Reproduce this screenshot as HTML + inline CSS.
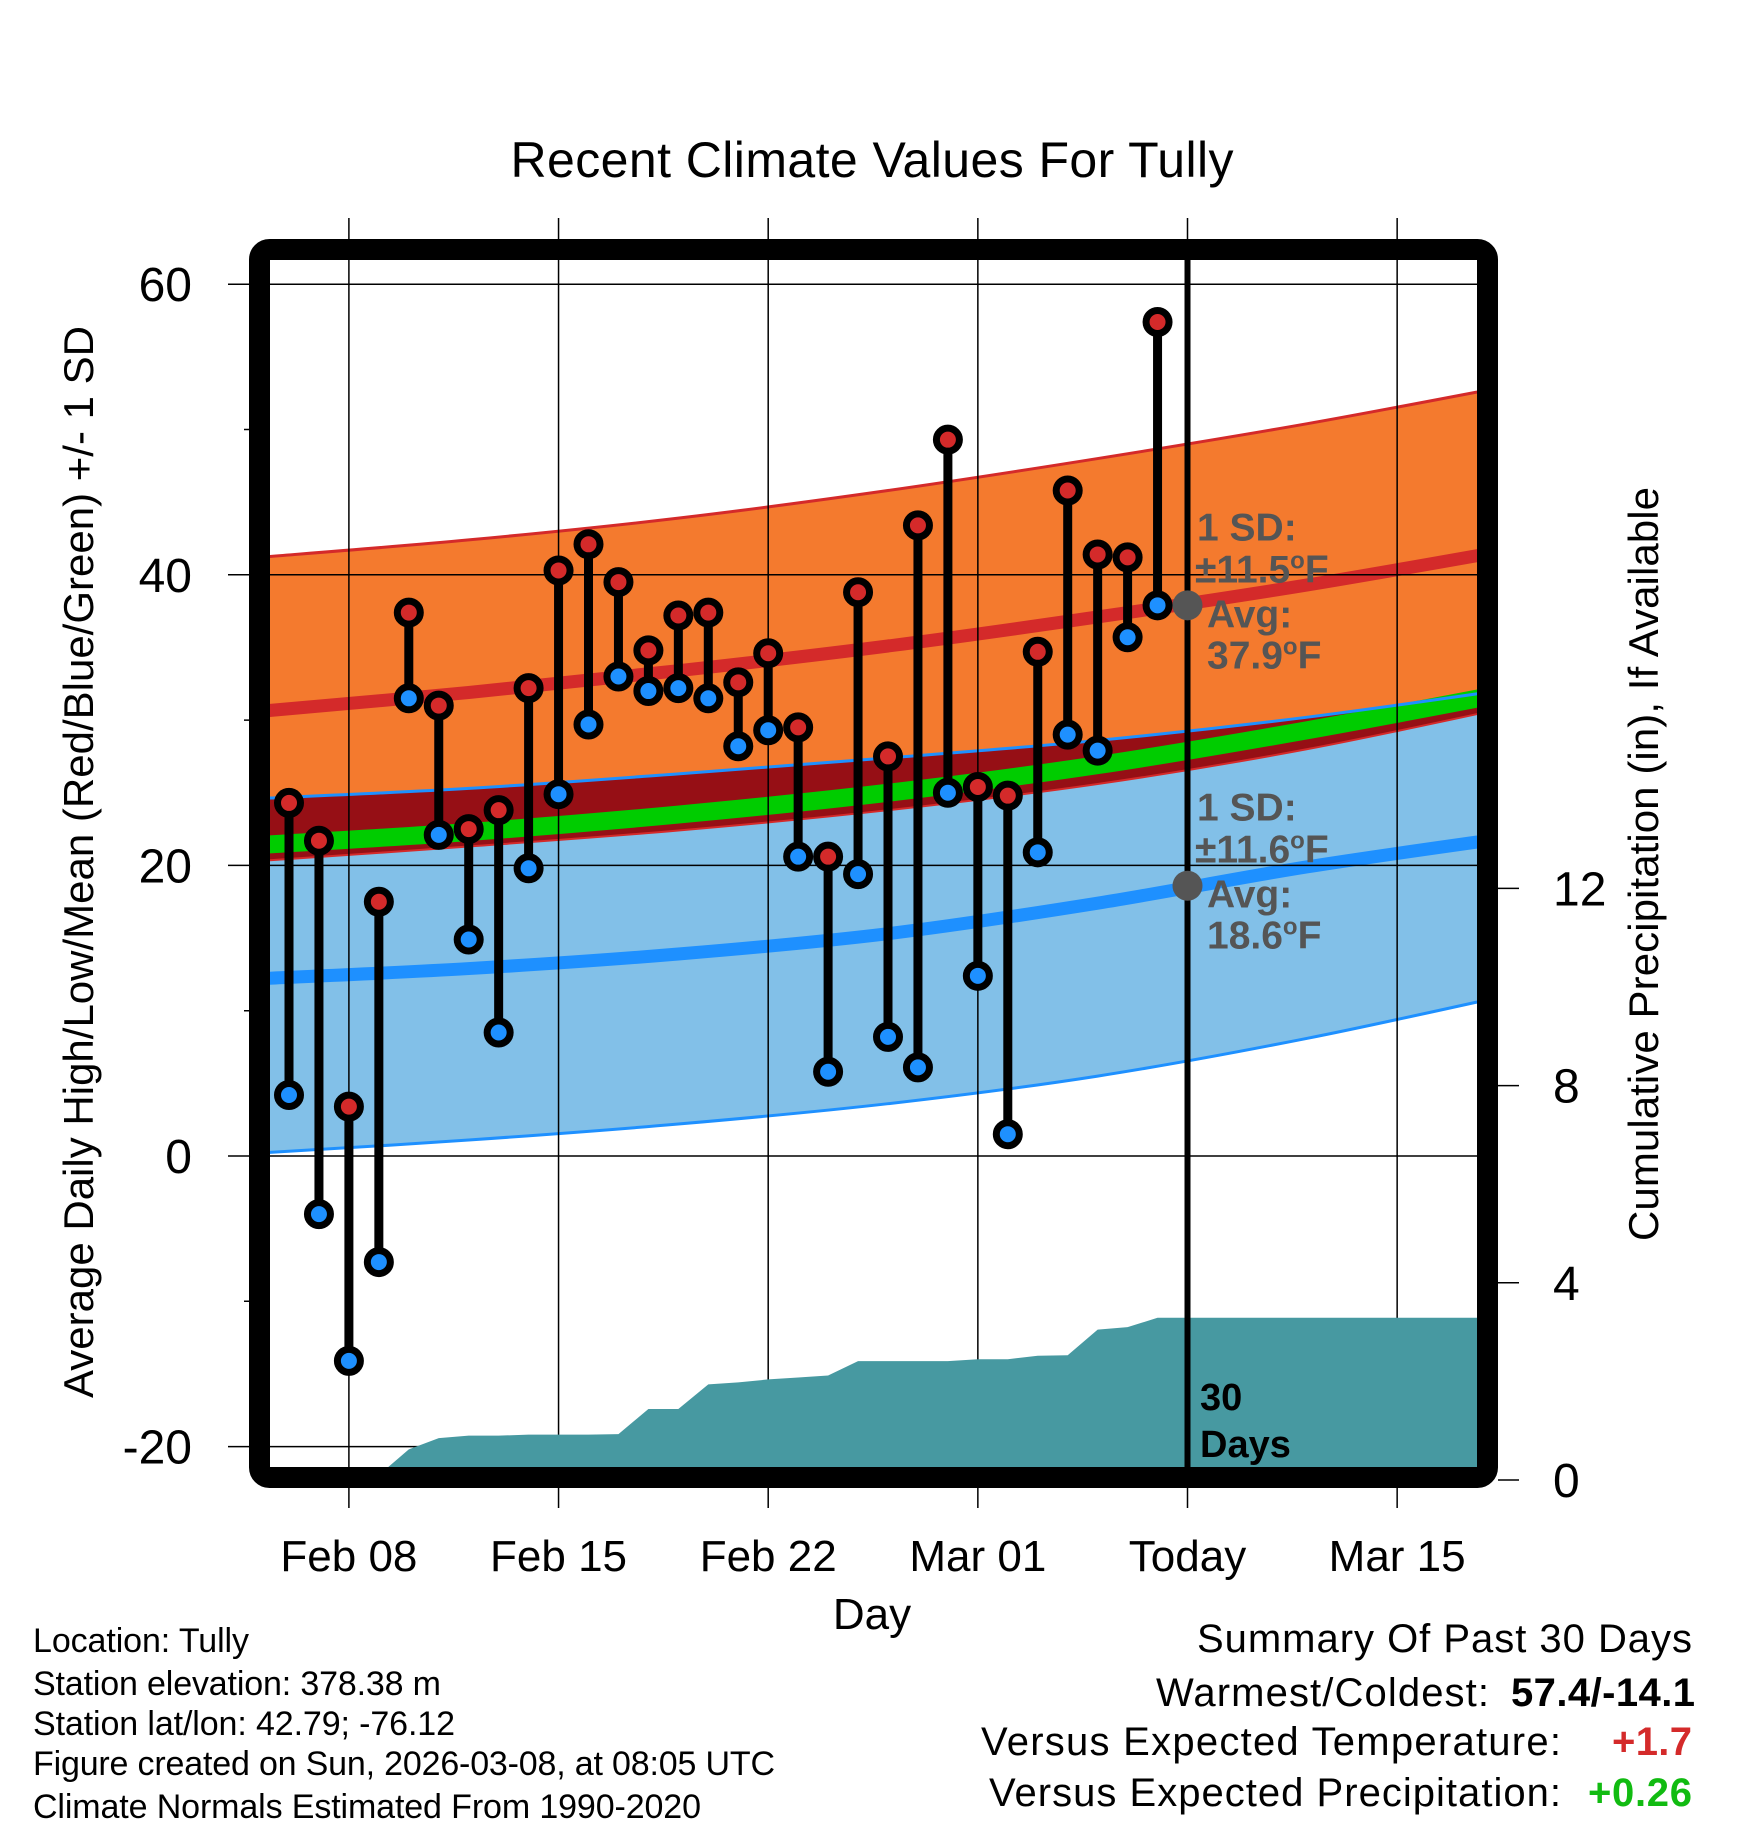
<!DOCTYPE html>
<html><head><meta charset="utf-8"><style>
html,body{margin:0;padding:0;background:#fff}
svg{display:block}
text{font-family:"Liberation Sans",sans-serif}
</style></head><body>
<svg id="chart" width="1748" height="1828" viewBox="0 0 1748 1828" xmlns="http://www.w3.org/2000/svg">
<defs><clipPath id="plotclip"><rect x="270" y="260" width="1207" height="1207"/></clipPath></defs>
<text x="872" y="177" font-size="50" text-anchor="middle" textLength="723">Recent Climate Values For Tully</text>
<g id="bands" clip-path="url(#plotclip)"></g>
<g id="grid"></g>
<g id="precip" clip-path="url(#plotclip)"></g>
<g id="marks"></g>
<g id="axes"></g>
<g font-size="34">
<text x="33" y="1652" textLength="216">Location: Tully</text>
<text x="33" y="1695" textLength="408">Station elevation: 378.38 m</text>
<text x="33" y="1735" textLength="422">Station lat/lon: 42.79; -76.12</text>
<text x="33" y="1775" textLength="742">Figure created on Sun, 2026-03-08, at 08:05 UTC</text>
<text x="33" y="1818" textLength="668">Climate Normals Estimated From 1990-2020</text>
</g>
<g font-size="40">
<text x="1197" y="1652" textLength="495">Summary Of Past 30 Days</text>
<text x="1156" y="1706" textLength="333">Warmest/Coldest:</text>
<text x="1511" y="1706" textLength="184" font-weight="bold">57.4/-14.1</text>
<text x="981" y="1755" textLength="580">Versus Expected Temperature:</text>
<text x="1612" y="1755" textLength="80" font-weight="bold" fill="#d42a2a">+1.7</text>
<text x="989" y="1806" textLength="572">Versus Expected Precipitation:</text>
<text x="1588" y="1806" textLength="104" font-weight="bold" fill="#11bb11">+0.26</text>
</g>
</svg>
<script>
// ---- data ----
const dayLabels = ["Feb 06","Feb 07","Feb 08","Feb 09","Feb 10","Feb 11","Feb 12","Feb 13","Feb 14","Feb 15","Feb 16","Feb 17","Feb 18","Feb 19","Feb 20","Feb 21","Feb 22","Feb 23","Feb 24","Feb 25","Feb 26","Feb 27","Feb 28","Mar 01","Mar 02","Mar 03","Mar 04","Mar 05","Mar 06","Mar 07"];
const highs = [24.3,21.7,3.4,17.5,37.4,31.0,22.5,23.8,32.2,40.3,42.1,39.5,34.8,37.2,37.4,32.6,34.6,29.5,20.6,38.8,27.5,43.4,49.3,25.4,24.8,34.7,45.8,41.4,41.2,57.4];
const lows = [4.2,-4.0,-14.1,-7.3,31.5,22.1,14.9,8.5,19.8,24.9,29.7,33.0,32.0,32.2,31.5,28.2,29.3,20.6,5.8,19.4,8.2,6.1,25.0,12.4,1.5,20.9,29.0,27.9,35.7,37.9];
const precipCum = [0,0,0,0.1,0.62,0.85,0.9,0.9,0.92,0.92,0.92,0.93,1.44,1.44,1.94,1.98,2.04,2.08,2.12,2.41,2.41,2.41,2.41,2.45,2.45,2.52,2.53,3.05,3.10,3.29];
// normals sampled weekly (day offset from Feb 06)
const normDays = [-1,6,13,20,27,34,41];
const highAvg = [30.6,31.9,33.4,35.1,37.1,39.3,41.8];
const highUp = [41.2,42.4,43.9,45.8,48.0,50.4,53.1];
const highLo = [24.6,25.3,26.3,27.4,28.6,30.2,32.2];
const meanAvg = [21.4,22.3,23.5,25.0,26.9,29.3,32.0];
const lowUp = [20.3,21.3,22.4,23.8,25.6,28.0,31.0];
const lowAvg = [12.2,12.9,13.9,15.3,17.4,19.9,22.0];
const lowLo = [0.2,1.1,2.2,3.6,5.5,8.1,11.2];
const xTickDays = [2,9,16,23,30,37];
const xTickLabels = ["Feb 08","Feb 15","Feb 22","Mar 01","Today","Mar 15"];
const yTicks = [-20,0,20,40,60];
const yMinorTicks = [-10,10,30,50];
const pTicks = [0,4,8,12];
const todayDay = 30;
const todayHighAvg = 37.9, todayHighSD = 11.5, todayLowAvg = 18.6, todayLowSD = 11.6;

// ---- axis functions ----
const X = d => 289 + d * 29.95;
const Y = v => 1156 - v * 14.53;
const P = p => 1480 - p * 49.3;
const NS = "http://www.w3.org/2000/svg";
function mk(tag, attrs, parent){const e=document.createElementNS(NS,tag);for(const k in attrs)e.setAttribute(k,attrs[k]);parent.appendChild(e);return e;}
function smooth(xs, ys){
  const pts = xs.map((x,i)=>[X(x),Y(ys[i])]);
  let d = "M"+pts[0][0]+","+pts[0][1];
  for(let i=0;i<pts.length-1;i++){
    const p0=pts[Math.max(0,i-1)],p1=pts[i],p2=pts[i+1],p3=pts[Math.min(pts.length-1,i+2)];
    d+=" C"+(p1[0]+(p2[0]-p0[0])/6)+","+(p1[1]+(p2[1]-p0[1])/6)+" "+(p2[0]-(p3[0]-p1[0])/6)+","+(p2[1]-(p3[1]-p1[1])/6)+" "+p2[0]+","+p2[1];
  }
  return d;
}
function revPath(xs, ys){return smooth(xs.slice().reverse(), ys.slice().reverse()).replace(/^M/,"L");}
function band(up, lo, fill, name, parent){
  const p = mk("path",{d:smooth(normDays,up)+" "+revPath(normDays,lo)+" Z",fill:fill},parent);
  
  
}
function line(vals, color, w, name, parent){
  const p = mk("path",{d:smooth(normDays,vals),fill:"none",stroke:color,"stroke-width":w},parent);
  
  
}
const bands = document.getElementById("bands");
band(highUp, highLo, "#f47a2e", "high-sd-band", bands);
band(highLo, lowUp, "#960f15", "overlap-band", bands);
band(lowUp, lowLo, "#82c0e8", "low-sd-band", bands);
line(meanAvg, "#00cc00", 18, "mean-normal-line", bands);
line(highUp, "#d42a2a", 3, "high-upper-line", bands);
line(highLo, "#1e90ff", 3, "high-lower-line", bands);
line(lowUp, "#d42a2a", 2, "low-upper-line", bands);
line(lowLo, "#1e90ff", 3, "low-lower-line", bands);
line(highAvg, "#d42a2a", 13, "high-normal-line", bands);
line(lowAvg, "#1e90ff", 13, "low-normal-line", bands);

// grid
const grid = document.getElementById("grid");
xTickDays.forEach(d=>{
  const l = mk("line",{x1:X(d),x2:X(d),y1:218,y2:1508,stroke:"#000","stroke-width":1.5},grid);
  
  
});
yTicks.forEach(v=>{
  const l = mk("line",{x1:228,x2:1477,y1:Y(v),y2:Y(v),stroke:"#000","stroke-width":1.5},grid);
  
  
});
yMinorTicks.forEach(v=>{
  const l = mk("line",{x1:244,x2:262,y1:Y(v),y2:Y(v),stroke:"#000","stroke-width":1.5},grid);
  
  
});

// precip area
const precip = document.getElementById("precip");
let pd = "M"+X(0)+","+1470;
precipCum.forEach((p,i)=>{pd += " L"+X(i)+","+P(p);});
pd += " L"+X(todayDay)+","+P(precipCum[precipCum.length-1])+" L1480,"+P(precipCum[precipCum.length-1])+" L1480,1470 Z";
const pa = mk("path",{d:pd,fill:"#4799a1"},precip);



// marks
const marks = document.getElementById("marks");
highs.forEach((h,i)=>{
  const s = mk("line",{x1:X(i),x2:X(i),y1:Y(h),y2:Y(lows[i]),stroke:"#000","stroke-width":9},marks);
  
  
});
highs.forEach((h,i)=>{
  const c = mk("circle",{cx:X(i),cy:Y(h),r:11.5,fill:"#d42a2a",stroke:"#000","stroke-width":7},marks);
  
  
  const c2 = mk("circle",{cx:X(i),cy:Y(lows[i]),r:11.5,fill:"#1e90ff",stroke:"#000","stroke-width":7},marks);
  
  
});
const tl = mk("line",{x1:X(todayDay),x2:X(todayDay),y1:260,y2:1467,stroke:"#000","stroke-width":6},marks);


[todayHighAvg,todayLowAvg].forEach(v=>{
  const c = mk("circle",{cx:X(todayDay),cy:Y(v),r:15,fill:"#555"},marks);
  
  
});
function lbl(txt,x,y,parent,name,size,fill){
  const t = mk("text",{x:x,y:y,"font-size":size,"font-weight":"bold",fill:fill},parent);
  t.textContent = txt;
  
  
  return t;
}
function sdLabel(avg, sd, dy, prefix){
  const ya = Y(avg);
  lbl("1 SD:", 1197, ya-65+dy, marks, prefix+"-sd-label", 39, "#555");
  const t = lbl("\u00b1"+sd.toFixed(1), 1195, ya-23+dy, marks, prefix+"-sd-value", 39, "#555");
  const ts = mk("tspan",{dy:-14,"font-size":24},t); ts.textContent="o";
  const tf = mk("tspan",{dy:14},t); tf.textContent="F";
  lbl("Avg:", 1207, ya+22+dy, marks, prefix+"-avg-label", 39, "#555");
  const t2 = lbl(avg.toFixed(1), 1207, ya+63+dy, marks, prefix+"-avg-value", 39, "#555");
  const ts2 = mk("tspan",{dy:-14,"font-size":24},t2); ts2.textContent="o";
  const tf2 = mk("tspan",{dy:14},t2); tf2.textContent="F";
}
sdLabel(todayHighAvg, todayHighSD, 0, "high");
sdLabel(todayLowAvg, todayLowSD, 0, "low");
lbl("30", 1200, 1410, marks, "days-label", 38, "#000");
lbl("Days", 1200, 1457, marks, "days-label-2", 38, "#000");

// axes
const axes = document.getElementById("axes");
const fr = mk("rect",{x:259.5,y:249.5,width:1228,height:1228,rx:10,fill:"none",stroke:"#000","stroke-width":21},axes);


yTicks.forEach(v=>{
  const t = mk("text",{x:192,y:Y(v)+17,"font-size":48,"text-anchor":"end"},axes);
  t.textContent = v;
  
  
});
pTicks.forEach(p=>{
  const l = mk("line",{x1:1498,x2:1519,y1:P(p),y2:P(p),stroke:"#000","stroke-width":1.5},axes);
  
  
  const t = mk("text",{x:1553,y:P(p)+17,"font-size":48},axes);
  t.textContent = p;
  
  
});
xTickDays.forEach((d,i)=>{
  const t = mk("text",{x:X(d),y:1571,"font-size":44,"text-anchor":"middle"},axes);
  t.textContent = xTickLabels[i];
  
  
});
const xt = mk("text",{x:872,y:1629,"font-size":44,"text-anchor":"middle"},axes);
xt.textContent = "Day";


const yt = mk("text",{x:0,y:0,"font-size":42,"text-anchor":"middle",textLength:1072,transform:"translate(93,862) rotate(-90)"},axes);
yt.textContent = "Average Daily High/Low/Mean (Red/Blue/Green) +/- 1 SD";


const y2t = mk("text",{x:0,y:0,"font-size":42,"text-anchor":"middle",textLength:754,transform:"translate(1658,864) rotate(-90)"},axes);
y2t.textContent = "Cumulative Precipitation (in), If Available";


</script>
</body></html>
